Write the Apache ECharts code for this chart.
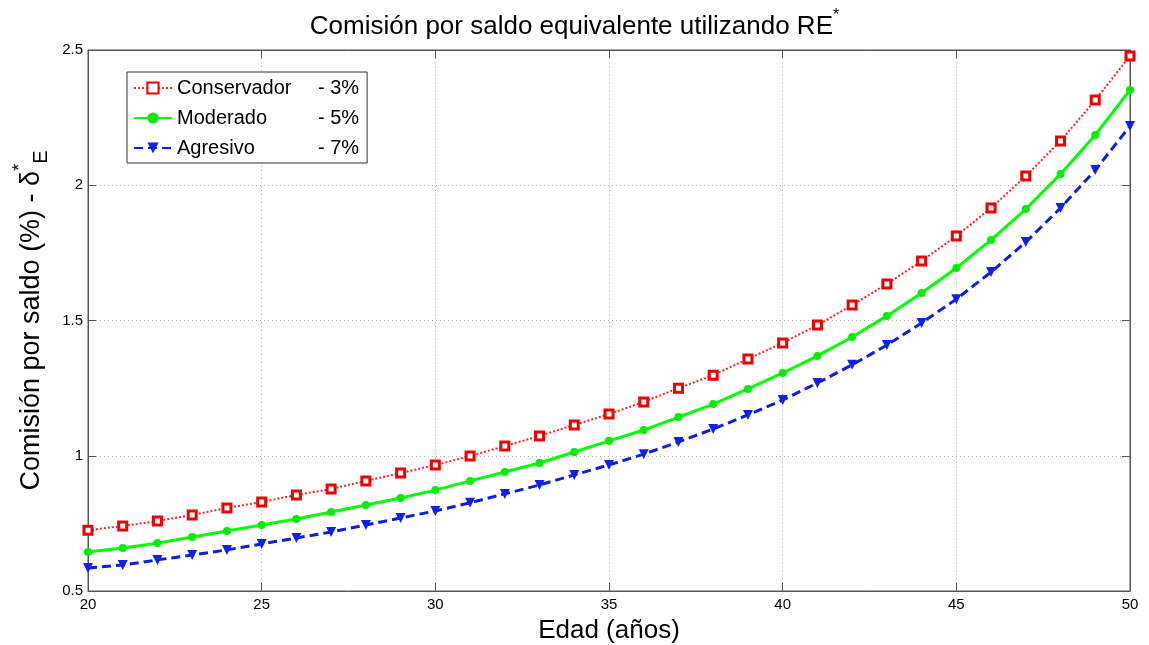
<!DOCTYPE html>
<html><head><meta charset="utf-8">
<script src="https://cdn.jsdelivr.net/npm/echarts@6/dist/echarts.min.js"></script>
<style>html,body{margin:0;padding:0;background:#fff}#c{width:1149px;height:645px}</style>
</head><body><div id="c"></div>
<script>
const ages = [20,21,22,23,24,25,26,27,28,29,30,31,32,33,34,35,36,37,38,39,40,41,42,43,44,45,46,47,48,49,50];
const conservador = [0.725,0.740,0.759,0.781,0.807,0.829,0.855,0.877,0.907,0.936,0.966,0.999,1.036,1.073,1.114,1.154,1.199,1.250,1.298,1.358,1.417,1.483,1.557,1.635,1.720,1.812,1.916,2.034,2.164,2.315,2.478];
const moderado = [0.644,0.659,0.677,0.700,0.722,0.744,0.766,0.792,0.818,0.844,0.873,0.907,0.940,0.973,1.014,1.055,1.095,1.143,1.191,1.247,1.306,1.369,1.439,1.517,1.602,1.694,1.798,1.912,2.042,2.186,2.352];
const agresivo = [0.585,0.596,0.615,0.633,0.652,0.674,0.696,0.718,0.744,0.770,0.796,0.826,0.859,0.892,0.929,0.966,1.006,1.051,1.099,1.151,1.206,1.269,1.336,1.409,1.491,1.579,1.679,1.790,1.916,2.056,2.219];
const seriesNames = ['Conservador','Moderado','Agresivo'];
const seriesRates = ['- 3%','- 5%','- 7%'];
const titleText = 'Comisión por saldo equivalente utilizando RE';
const xName = 'Edad (años)';
const yName = 'Comisión por saldo (%) - δ';

const pairs = vals => ages.map((a,i)=>[a, vals[i]]);
const FONT = 'Liberation Sans, Arial, sans-serif';
const chart = echarts.init(document.getElementById('c'));
const grid = {left:88, right:19, top:50, bottom:54};
const gridLine = {show:true, lineStyle:{color:'#b0b0b0', type:[1,3], width:1}};
chart.setOption({
  animation:false,
  backgroundColor:'#fff',
  textStyle:{fontFamily:FONT},
  title:{
    text:'{a|'+titleText+'}{s|*}',
    left:'center', top:3,
    textStyle:{fontWeight:'normal', rich:{
      a:{fontSize:26, color:'#000', fontFamily:FONT, fontWeight:'normal', verticalAlign:'bottom', lineHeight:32},
      s:{fontSize:16, color:'#000', fontFamily:FONT, fontWeight:'normal', verticalAlign:'top', lineHeight:32}
    }}
  },
  grid:Object.assign({show:true, borderColor:'#555', borderWidth:1, backgroundColor:'#fff', containLabel:false, outerBoundsMode:'none'}, grid),
  legend:{
    left:127, top:72, orient:'vertical',
    data:seriesNames,
    backgroundColor:'#fff', borderColor:'#333', borderWidth:1,
    padding:[6,8,5,6], itemGap:10, itemWidth:38, itemHeight:14,
    formatter: name => '{n|'+name+'}{p|'+seriesRates[seriesNames.indexOf(name)]+'}',
    textStyle:{rich:{
      n:{fontSize:20, width:141, color:'#000', fontFamily:FONT},
      p:{fontSize:20, color:'#000', fontFamily:FONT}
    }}
  },
  xAxis:[{
    type:'value', min:20, max:50, interval:5,
    name:xName, nameLocation:'middle', nameGap:27,
    nameTextStyle:{fontSize:26, color:'#000', fontFamily:FONT},
    axisLine:{show:true, onZero:false, lineStyle:{color:'#555'}},
    axisTick:{show:true, inside:true, length:8, lineStyle:{color:'#555'}},
    axisLabel:{fontSize:15, color:'#000', margin:6, fontFamily:FONT},
    splitLine:gridLine
  },{
    type:'value', position:'top', min:20, max:50, interval:5,
    axisLine:{show:true, onZero:false, lineStyle:{color:'#555'}},
    axisTick:{show:true, inside:true, length:8, lineStyle:{color:'#555'}},
    axisLabel:{show:false}, splitLine:{show:false}
  }],
  yAxis:[{
    type:'value', min:0.5, max:2.5, interval:0.5,
    name:'{a|'+yName+'}{s|*}{e|E}', nameLocation:'middle', nameGap:36, nameRotate:90,
    nameTextStyle:{rich:{
      a:{fontSize:27, color:'#000', fontFamily:FONT, verticalAlign:'middle', lineHeight:40},
      s:{fontSize:18, color:'#000', fontFamily:FONT, verticalAlign:'top', lineHeight:40},
      e:{fontSize:20, color:'#000', fontFamily:FONT, verticalAlign:'bottom', lineHeight:40}
    }},
    axisLine:{show:true, onZero:false, lineStyle:{color:'#555'}},
    axisTick:{show:true, inside:true, length:8, lineStyle:{color:'#555'}},
    axisLabel:{fontSize:15, color:'#000', margin:5, fontFamily:FONT},
    splitLine:gridLine
  },{
    type:'value', position:'right', min:0.5, max:2.5, interval:0.5,
    axisLine:{show:true, onZero:false, lineStyle:{color:'#555'}},
    axisTick:{show:true, inside:true, length:8, lineStyle:{color:'#555'}},
    axisLabel:{show:false}, splitLine:{show:false}
  }],
  series:[{
    name:seriesNames[0], type:'line', data:pairs(conservador),
    symbol:'rect', symbolSize:8,
    lineStyle:{color:'#ff2020', width:2, type:[2,2]},
    itemStyle:{color:'#fff', borderColor:'#ee0000', borderWidth:3},
    z:3
  },{
    name:seriesNames[1], type:'line', data:pairs(moderado),
    symbol:'circle', symbolSize:8,
    lineStyle:{color:'#00ff00', width:3},
    itemStyle:{color:'#00ee00', borderColor:'#00ee00', borderWidth:0},
    z:4
  },{
    name:seriesNames[2], type:'line', data:pairs(agresivo),
    symbol:'triangle', symbolRotate:180, symbolSize:10,
    lineStyle:{color:'#0a1fe0', width:3, type:[9,5]},
    itemStyle:{color:'#1020e8', borderWidth:0},
    z:5
  }]
});
</script></body></html>
